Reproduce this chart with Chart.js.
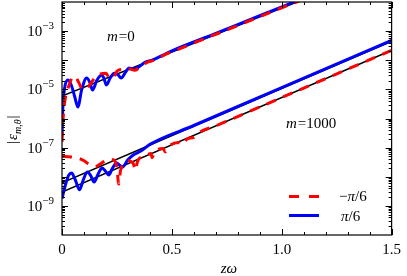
<!DOCTYPE html>
<html>
<head>
<meta charset="utf-8">
<script src="https://cdn.jsdelivr.net/npm/chart.js@4"></script>
<style>
  html, body { margin: 0; padding: 0; background: #fff; }
  canvas { display: block; }
</style>
</head>
<body>
<canvas id="myChart" width="407" height="276"></canvas>
<script>
/* globals Chart:false */

// m = 0, black reference line
const blackM0X = [0, 1.5]
const blackM0Y = [5.9e-6, 2.0e-1]

// m = 1000, black reference lines
const blackUpX = [0, 1.5]
const blackUpY = [6.2e-9, 4.5e-4]
const blackLoX = [0, 1.5]
const blackLoY = [3.0e-9, 2.2e-4]

// m = 0, pi/6 (blue)
const blueM0X = [0, 0.004, 0.012, 0.027, 0.042, 0.058, 0.072, 0.09, 0.112, 0.126, 0.139, 0.158, 0.18, 0.19,
  0.202, 0.22, 0.238, 0.255, 0.269, 0.29, 0.305, 0.325, 0.345, 0.38, 0.41, 0.45, 0.5, 0.7, 0.9, 1.1, 1.2]
const blueM0Y = [2.5e-7, 2.5e-6, 1.12e-5, 2.1e-5, 1.41e-5, 5.6e-6, 2.5e-6, 1.0e-5, 2.45e-5, 1.78e-5, 9.5e-6, 2.0e-5, 3.1e-5, 2.5e-5,
  1.41e-5, 2.5e-5, 3.6e-5, 3.16e-5, 2.45e-5, 4.0e-5, 5.4e-5, 5.0e-5, 5.6e-5, 8.7e-5, 1.0e-4, 1.38e-4, 2.1e-4, 8.3e-4, 3.4e-3, 1.35e-2, 2.7e-2]

// m = 0, -pi/6 (red)
const redM0X = [0, 0.005, 0.015, 0.03, 0.045, 0.06, 0.075, 0.095, 0.115, 0.135, 0.155, 0.175, 0.2, 0.215,
  0.23, 0.25, 0.27, 0.29, 0.31, 0.33, 0.36, 0.39, 0.42, 0.47, 0.5, 0.7, 1.1, 1.2]
const redM0Y = [1.58e-7, 1.0e-6, 5.0e-6, 1.26e-5, 2.4e-5, 2.8e-5, 1.78e-5, 1.0e-5, 1.12e-5, 1.78e-5, 2.8e-5, 3.4e-5, 3.55e-5, 2.5e-5,
  2.4e-5, 4.2e-5, 4.8e-5, 4.5e-5, 5.0e-5, 4.5e-5, 6.3e-5, 8.7e-5, 1.0e-4, 1.58e-4, 1.95e-4, 7.8e-4, 1.26e-2, 2.5e-2]

// m = 1000, pi/6 (blue)
const blueM1000X = [0, 0.015, 0.03, 0.044, 0.06, 0.08, 0.097, 0.115, 0.13, 0.146, 0.165, 0.182, 0.197, 0.213,
  0.23, 0.249, 0.262, 0.275, 0.3, 0.324, 0.359, 0.4, 0.6, 1.0, 1.5]
const blueM1000Y = [1.78e-9, 5.0e-9, 1.12e-8, 1.35e-8, 7.9e-9, 3.55e-9, 7.9e-9, 1.45e-8, 1.12e-8, 6.6e-9, 1.26e-8, 2.0e-8, 1.58e-8, 1.15e-8,
  2.0e-8, 2.95e-8, 2.5e-8, 2.14e-8, 3.8e-8, 5.6e-8, 7.6e-8, 1.29e-7, 5.75e-7, 1.15e-5, 4.8e-4]

// m = 1000, -pi/6 (red)
const redM1000X = [0, 0.03, 0.06, 0.08, 0.1, 0.12, 0.15, 0.17, 0.19, 0.21, 0.235, 0.25, 0.258, 0.266, 0.28,
  0.3, 0.325, 0.333, 0.345, 0.38, 0.405, 0.41, 0.42, 0.46, 0.47, 0.49, 0.53, 0.545, 0.57, 0.6, 0.62, 0.7, 1.0, 1.5]
const redM1000Y = [5.0e-8, 4.9e-8, 4.57e-8, 4.17e-8, 3.55e-8, 2.8e-8, 2.24e-8, 2.63e-8, 3.3e-8, 4.0e-8, 3.8e-8, 2.0e-8, 5.6e-9, 1.58e-8, 2.8e-8,
  3.55e-8, 2.8e-8, 1.66e-8, 3.55e-8, 5.25e-8, 6.3e-8, 4.5e-8, 6.8e-8, 9.3e-8, 7.1e-8, 1.17e-7, 1.51e-7, 1.26e-7, 2.0e-7, 2.24e-7, 3.16e-7, 5.6e-7, 5.25e-6, 2.2e-4]

const xTicks = [0, 0.5, 1.0, 1.5]
const yTickExponents = [-3, -5, -7, -9]

const SERIF = '"Liberation Serif", "DejaVu Serif", serif'

const pts = (xs, ys) => xs.map((x, i) => ({ x, y: ys[i] }))

const red = {
  borderColor: '#ff0000',
  borderWidth: 3,
  borderDash: [10, 8],
  pointRadius: 0,
  cubicInterpolationMode: 'monotone'
}
const blue = {
  borderColor: '#0000ff',
  borderWidth: 3,
  pointRadius: 0,
  cubicInterpolationMode: 'monotone'
}
const black = {
  borderColor: '#000000',
  borderWidth: 1.5,
  pointRadius: 0
}

// frame, inward ticks, log labels, titles, annotations and legend
const decorations = {
  id: 'decorations',
  afterDraw (chart) {
    const { ctx, chartArea: a, scales: { x, y } } = chart
    ctx.save()
    ctx.strokeStyle = '#000'
    ctx.lineWidth = 1.2
    ctx.strokeRect(a.left, a.top, a.right - a.left, a.bottom - a.top)

    ctx.lineWidth = 1
    ctx.beginPath()
    for (let i = 0; i <= 15; i++) {
      const px = Math.round(x.getPixelForValue(i / 10)) + 0.5
      const len = i % 5 === 0 ? 6 : 3
      ctx.moveTo(px, a.bottom); ctx.lineTo(px, a.bottom - len)
      ctx.moveTo(px, a.top); ctx.lineTo(px, a.top + len)
    }
    for (let e = -10; e < -2; e++) {
      for (let k = 1; k <= 9; k++) {
        const v = k * Math.pow(10, e)
        const py = Math.round(y.getPixelForValue(v)) + 0.5
        if (py < a.top || py > a.bottom) continue
        const len = k === 1 ? 6 : 3
        ctx.moveTo(a.left, py); ctx.lineTo(a.left + len, py)
        ctx.moveTo(a.right, py); ctx.lineTo(a.right - len, py)
      }
    }
    ctx.stroke()

    // y tick labels 10^n
    ctx.fillStyle = '#000'
    ctx.textBaseline = 'alphabetic'
    yTickExponents.forEach(e => {
      const py = y.getPixelForValue(Math.pow(10, e))
      const exp = '\u2212' + Math.abs(e)
      ctx.font = '11px ' + SERIF
      ctx.textAlign = 'right'
      const ew = ctx.measureText(exp).width
      ctx.fillText(exp, 54, py - 2)
      ctx.font = '15px ' + SERIF
      ctx.fillText('10', 54 - ew, py + 5)
    })

    // y title |eps_{m,theta}|
    ctx.save()
    ctx.translate(17, 120)
    ctx.rotate(-Math.PI / 2)
    ctx.textAlign = 'left'
    ctx.font = '15px ' + SERIF
    let cx = -24
    ctx.fillText('|', cx, 0); cx += ctx.measureText('|').width + 1
    ctx.font = 'italic 15px ' + SERIF
    ctx.fillText('\u03b5', cx, 0); cx += ctx.measureText('\u03b5').width
    ctx.font = 'italic 10px ' + SERIF
    ctx.fillText('m,\u03b8', cx, 4); cx += ctx.measureText('m,\u03b8').width + 1
    ctx.font = '15px ' + SERIF
    ctx.fillText('|', cx, 0)
    ctx.restore()

    // annotations
    const label = (x0, y0, rest) => {
      ctx.textAlign = 'left'
      ctx.font = 'italic 15px ' + SERIF
      ctx.fillText('m', x0, y0)
      const w = ctx.measureText('m').width
      ctx.font = '15px ' + SERIF
      ctx.fillText(rest, x0 + w + 1, y0)
    }
    label(107, 41, '=0')
    label(286, 128, '=1000')

    // legend
    ctx.lineWidth = 3
    ctx.strokeStyle = '#ff0000'
    ctx.setLineDash([10, 10])
    ctx.beginPath(); ctx.moveTo(289, 196.5); ctx.lineTo(319, 196.5); ctx.stroke()
    ctx.setLineDash([])
    ctx.strokeStyle = '#0000ff'
    ctx.beginPath(); ctx.moveTo(289, 215.5); ctx.lineTo(319, 215.5); ctx.stroke()
    ctx.font = '15px ' + SERIF
    ctx.fillText('\u2212', 339, 201)
    let lw = ctx.measureText('\u2212').width
    ctx.font = 'italic 15px ' + SERIF
    ctx.fillText('\u03c0', 339 + lw, 201)
    lw += ctx.measureText('\u03c0').width
    ctx.font = '15px ' + SERIF
    ctx.fillText('/6', 339 + lw, 201)
    ctx.font = 'italic 15px ' + SERIF
    ctx.fillText('\u03c0', 341, 221)
    const pw = ctx.measureText('\u03c0').width
    ctx.font = '15px ' + SERIF
    ctx.fillText('/6', 341 + pw, 221)

    // x title
    ctx.textAlign = 'center'
    ctx.font = 'italic 15px ' + SERIF
    ctx.fillText('z\u03c9', 229, 273)
    ctx.restore()
  }
}

const ctx = document.getElementById('myChart')
// eslint-disable-next-line no-unused-vars
const myChart = new Chart(ctx, {
  type: 'line',
  data: {
    datasets: [
      { ...red, data: pts(redM0X, redM0Y) },
      { ...red, data: pts(redM1000X, redM1000Y) },
      { ...blue, data: pts(blueM0X, blueM0Y) },
      { ...blue, data: pts(blueM1000X, blueM1000Y) },
      { ...black, data: pts(blackM0X, blackM0Y) },
      { ...black, data: pts(blackUpX, blackUpY) },
      { ...black, data: pts(blackLoX, blackLoY) }
    ]
  },
  options: {
    responsive: false,
    animation: false,
    layout: { padding: { top: 2, right: 11, left: 0, bottom: 0 } },
    plugins: {
      legend: { display: false },
      tooltip: { enabled: false }
    },
    scales: {
      x: {
        type: 'linear',
        min: 0,
        max: 1.5,
        grid: { display: false, drawTicks: false },
        border: { display: false },
        afterBuildTicks: s => { s.ticks = xTicks.map(v => ({ value: v })) },
        afterFit: s => { s.height = 41 },
        ticks: {
          padding: 6,
          color: '#000',
          maxRotation: 0,
          font: { family: SERIF, size: 15 },
          callback: v => v === 0 ? '0' : v.toFixed(1)
        }
      },
      y: {
        type: 'logarithmic',
        min: 1e-10,
        max: 1e-2,
        grid: { display: false, drawTicks: false },
        border: { display: false },
        ticks: { display: false },
        afterFit: s => { s.width = 62 }
      }
    }
  },
  plugins: [decorations]
})
</script>
</body>
</html>
